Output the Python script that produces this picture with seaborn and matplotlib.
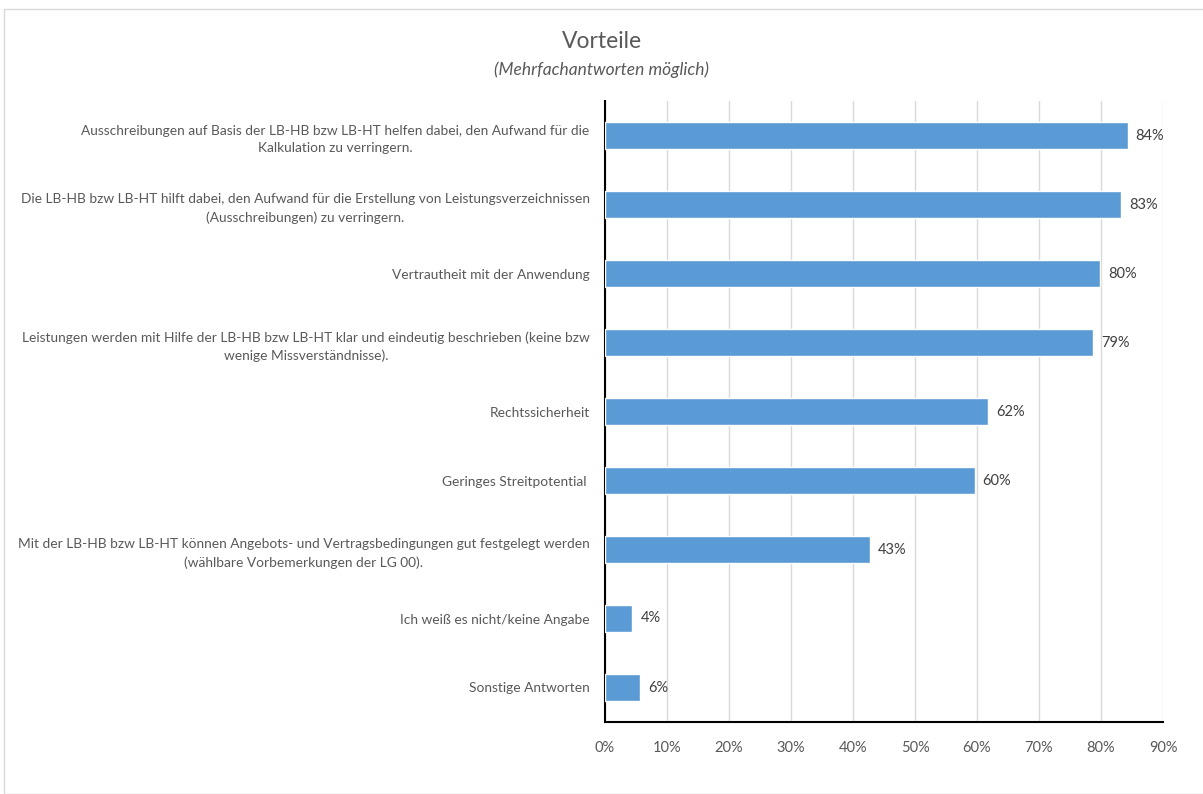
import matplotlib
matplotlib.use("Agg")
import matplotlib.pyplot as plt
import seaborn as sns
import pandas as pd
from matplotlib.patches import Rectangle
from matplotlib.ticker import FuncFormatter

categories = [
    "Ausschreibungen auf Basis der LB-HB bzw LB-HT helfen dabei, den Aufwand für die\nKalkulation zu verringern.",
    "Die LB-HB bzw LB-HT hilft dabei, den Aufwand für die Erstellung von Leistungsverzeichnissen\n(Ausschreibungen) zu verringern.",
    "Vertrautheit mit der Anwendung",
    "Leistungen werden mit Hilfe der LB-HB bzw LB-HT klar und eindeutig beschrieben (keine bzw\nwenige Missverständnisse).",
    "Rechtssicherheit",
    "Geringes Streitpotential ",
    "Mit der LB-HB bzw LB-HT können Angebots- und Vertragsbedingungen gut festgelegt werden\n(wählbare Vorbemerkungen der LG 00).",
    "Ich weiß es nicht/keine Angabe",
    "Sonstige Antworten",
]
values = [84.3, 83.2, 79.8, 78.7, 61.8, 59.6, 42.7, 4.4, 5.6]
value_labels = ["84%", "83%", "80%", "79%", "62%", "60%", "43%", "4%", "6%"]
x_ticks = [0, 10, 20, 30, 40, 50, 60, 70, 80, 90]

sns.set_theme(style="white")
plt.rcParams["font.family"] = ["Lato", "DejaVu Sans"]

df = pd.DataFrame({"cat": categories, "val": values})

fig = plt.figure(figsize=(12.03, 7.94), dpi=100)
ax = fig.add_axes([605 / 1203, 1 - 722 / 794, (1163 - 605) / 1203, (722 - 101) / 794])

sns.barplot(data=df, y="cat", x="val", orient="h", color="#5B9BD5",
            saturation=1, width=0.39, ax=ax, zorder=3)

ax.set_xlim(0, 90)
ax.set_ylim(len(categories) - 0.5, -0.5)
ax.set_xticks(x_ticks)
ax.xaxis.set_major_formatter(FuncFormatter(lambda v, p: f"{v:.0f}%"))
ax.grid(axis="x", color="#D9D9D9", linewidth=1, zorder=0)
ax.set_axisbelow(True)
ax.set_xlabel("")
ax.set_ylabel("")

for s in ["top", "right"]:
    ax.spines[s].set_visible(False)
for s in ["left", "bottom"]:
    ax.spines[s].set_color("black")
    ax.spines[s].set_linewidth(1.5)

ax.tick_params(axis="x", colors="#595959", labelsize=10.5, length=0, pad=14)
ax.tick_params(axis="y", colors="#595959", labelsize=9.9, length=0, pad=11)
for lbl in ax.get_yticklabels():
    lbl.set_horizontalalignment("right")
    lbl.set_multialignment("center")
    lbl.set_linespacing(1.55)

for i, (v, t) in enumerate(zip(values, value_labels)):
    ax.text(v + 1.3, i, t, va="center", ha="left", color="#404040", fontsize=10.5)

fig.text(0.5, 1 - 42 / 794, "Vorteile", ha="center", va="center",
         fontsize=16.5, color="#595959")
fig.text(0.5, 1 - 70 / 794, "(Mehrfachantworten möglich)", ha="center", va="center",
         fontsize=12.5, color="#595959", style="italic")

fig.patches.append(Rectangle((4 / 1203, 0), 1.2, 1 - 9 / 794, transform=fig.transFigure,
                             fill=False, edgecolor="#D9D9D9", linewidth=1))

fig.savefig("out.png", dpi=100)
